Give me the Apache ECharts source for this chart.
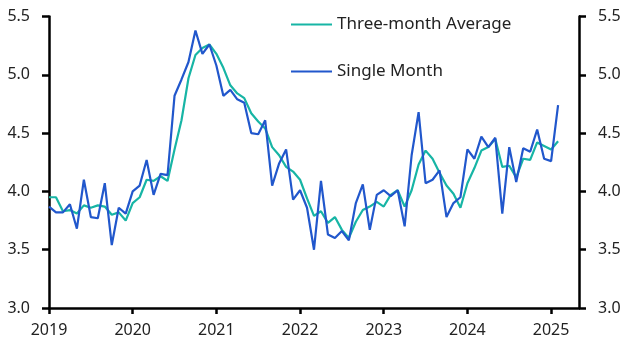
<!DOCTYPE html>
<html><head><meta charset="utf-8">
<script src="https://cdn.jsdelivr.net/npm/echarts@6/dist/echarts.min.js"></script>
<style>html,body{margin:0;padding:0;background:#fff}#c{width:629px;height:355px}</style>
</head><body><div id="c"></div>
<script>
// Monthly categories Jan 2019 .. May 2025 (axis end), data Jan 2019 .. Feb 2025
const yearLabels = ['2019','2020','2021','2022','2023','2024','2025'];
const startYear = 2019;
const axisMonths = 77;
const singleMonth = [
  3.87, 3.82, 3.82, 3.89, 3.68, 4.10, 3.78, 3.77, 4.07, 3.54, 3.86, 3.81,
  4.00, 4.05, 4.27, 3.97, 4.15, 4.14, 4.82, 4.96, 5.11, 5.38, 5.18, 5.26,
  5.08, 4.82, 4.87, 4.79, 4.76, 4.50, 4.49, 4.61, 4.05, 4.24, 4.36, 3.93,
  4.01, 3.86, 3.50, 4.09, 3.63, 3.60, 3.66, 3.58, 3.90, 4.06, 3.67, 3.97,
  4.01, 3.96, 4.01, 3.70, 4.31, 4.68, 4.07, 4.10, 4.18, 3.78, 3.90, 3.95,
  4.36, 4.28, 4.47, 4.38, 4.46, 3.81, 4.38, 4.08, 4.37, 4.34, 4.53, 4.28,
  4.26, 4.74
];
const threeMonthAvg = [
  3.95, 3.95, 3.83, 3.84, 3.81, 3.88, 3.86, 3.88, 3.87, 3.80, 3.82, 3.75,
  3.90, 3.95, 4.10, 4.09, 4.13, 4.09, 4.36, 4.61, 4.97, 5.17, 5.23, 5.26,
  5.18, 5.06, 4.91, 4.84, 4.80, 4.67, 4.60, 4.54, 4.38, 4.31, 4.21, 4.17,
  4.10, 3.94, 3.79, 3.83, 3.73, 3.78, 3.67, 3.60, 3.74, 3.84, 3.87, 3.91,
  3.87, 3.97, 4.01, 3.87, 4.01, 4.23, 4.35, 4.28, 4.16, 4.05, 3.98, 3.86,
  4.07, 4.20, 4.35, 4.38, 4.45, 4.21, 4.22, 4.12, 4.28, 4.27, 4.42, 4.39,
  4.36, 4.43
];

const categories = [];
for (let i = 0; i < axisMonths; i++) {
  const y = startYear + Math.floor(i / 12);
  const m = (i % 12) + 1;
  categories.push(y + '-' + (m < 10 ? '0' + m : m));
}
const FONT = 'Noto Sans';
const isJan = (idx) => idx % 12 === 0;

const yAxisCommon = {
  type: 'value', min: 3.0, max: 5.5, interval: 0.5,
  axisLine: { show: true, lineStyle: { color: '#000', width: 2.5 } },
  axisTick: { show: true, length: 7, lineStyle: { color: '#000', width: 2.5 } },
  splitLine: { show: false },
  axisLabel: { color: '#222', fontFamily: FONT, fontSize: 16, margin: 19,
    formatter: v => v.toFixed(1) }
};

const chart = echarts.init(document.getElementById('c'), null, { renderer: 'canvas' });
chart.setOption({
  animation: false,
  grid: { left: 49, right: 50, top: 16.5, bottom: 47 },
  legend: {
    orient: 'vertical', left: 286, top: 11, itemGap: 30,
    itemWidth: 41, itemHeight: 2, icon: 'rect',
    textStyle: { color: '#222', fontFamily: FONT, fontSize: 17, padding: [0, 0, 0, 0] },
    data: ['Three-month Average', 'Single Month']
  },
  xAxis: {
    type: 'category', data: categories, boundaryGap: false,
    axisLine: { show: true, lineStyle: { color: '#000', width: 2.5 } },
    axisTick: { show: true, length: 6, interval: (idx) => isJan(idx), lineStyle: { color: '#000', width: 2.5 } },
    axisLabel: { color: '#222', fontFamily: FONT, fontSize: 16, margin: 14,
      interval: (idx) => isJan(idx),
      formatter: (v, idx) => yearLabels[Math.floor(idx / 12)] || '' },
    splitLine: { show: false }
  },
  yAxis: [
    Object.assign({ position: 'left' }, yAxisCommon),
    Object.assign({ position: 'right' }, yAxisCommon)
  ],
  series: [
    { name: 'Three-month Average', type: 'line', data: threeMonthAvg, showSymbol: false,
      lineStyle: { color: '#17B5A5', width: 2.2 }, itemStyle: { color: '#17B5A5' } },
    { name: 'Single Month', type: 'line', data: singleMonth, showSymbol: false,
      lineStyle: { color: '#2157CC', width: 2.2 }, itemStyle: { color: '#2157CC' } }
  ]
});
</script></body></html>
